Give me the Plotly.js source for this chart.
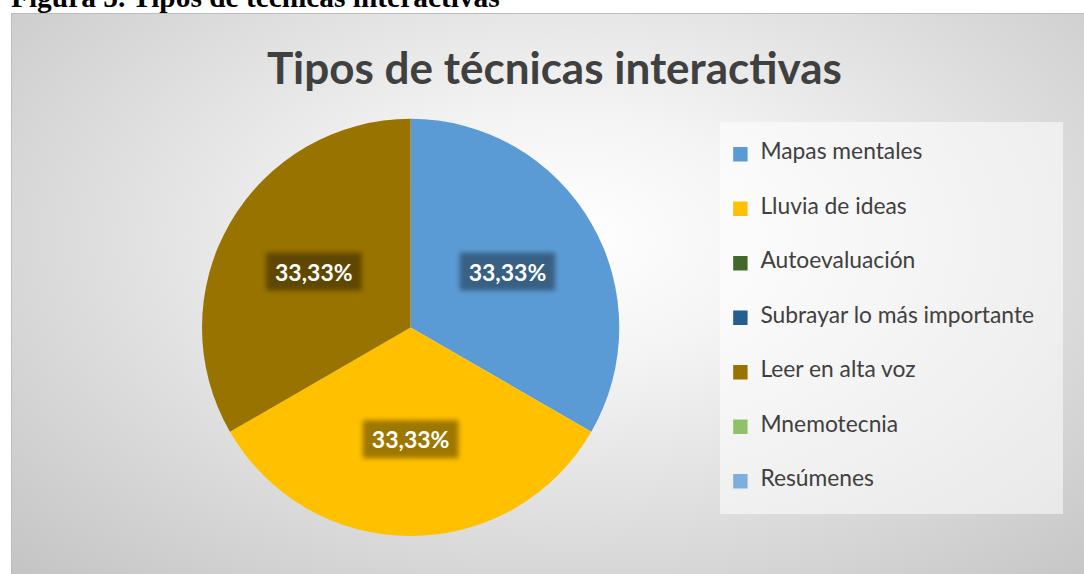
<!DOCTYPE html>
<html>
<head>
<meta charset="utf-8">
<script src="https://cdn.plot.ly/plotly-3.0.1.min.js"></script>
<style>
  html, body { margin:0; padding:0; width:1084px; height:574px; overflow:hidden; background:#ffffff; }
  #caption { position:absolute; left:11px; top:-17px; font-family:"Liberation Serif","Times New Roman",serif; font-weight:bold; font-size:29.4px; line-height:29px; color:#000; white-space:nowrap; }
  #chart { position:absolute; left:11px; top:13px; width:1073px; height:561px; box-sizing:border-box;
           border-top:1px solid #bdbdbd; border-left:1px solid #bdbdbd;
           background: radial-gradient(ellipse farthest-corner at 52% 40%, #ffffff 0%, #f4f4f4 26%, #c4c4c4 100%); }
</style>
</head>
<body>
<div id="caption">Figura 5. Tipos de técnicas interactivas</div>
<div id="chart"></div>
<script>
const chartTitle = "Tipos de técnicas interactivas";
const categories = ["Mapas mentales", "Lluvia de ideas", "Autoevaluación", "Subrayar lo más importante", "Leer en alta voz", "Mnemotecnia", "Resúmenes"];
const values = [1, 1, 0, 0, 1, 0, 0];
const colors = ["#5B9BD5", "#FFC000", "#43682B", "#255E91", "#997300", "#8FC16A", "#7CAFDD"];

const legendFontSize = 13.2;
const legendTextSize = 22.8;
const legendLabels = categories.map(c => "<br><span style='font-size:" + legendTextSize + "px'>" + c + "&nbsp;&nbsp;&nbsp;&nbsp;</span><br>");

const data = [{
  type: "pie",
  labels: legendLabels,
  values: values,
  marker: { colors: colors },
  sort: false,
  direction: "clockwise",
  rotation: 0,
  textposition: "inside",
  insidetextorientation: "horizontal",
  texttemplate: "%{percent:.2%}",
  insidetextfont: { family: "Lato, 'Noto Sans', sans-serif", size: 23, color: "#ffffff", weight: "bold" },
  hoverinfo: "none",
  domain: { x: [0.1771, 0.5666], y: [0.0677, 0.8128] }
}];

const layout = {
  width: 1072, height: 560,
  margin: { l: 0, r: 0, t: 0, b: 0 },
  paper_bgcolor: "rgba(0,0,0,0)",
  plot_bgcolor: "rgba(0,0,0,0)",
  separators: ",.",
  title: {
    text: "<b>" + chartTitle + "</b>",
    font: { family: "Lato, 'Noto Sans', sans-serif", size: 44, color: "#404040" },
    x: 0.506, xanchor: "center", xref: "paper",
    y: 0.9027, yanchor: "middle", yref: "container"
  },
  showlegend: true,
  legend: {
    x: 0.6608, xanchor: "left", xref: "paper",
    y: 0.8070, yanchor: "top", yref: "paper",
    bgcolor: "rgba(255,255,255,0.55)",
    borderwidth: 0,
    font: { family: "Lato, 'Noto Sans', sans-serif", size: legendFontSize, color: "#404040" },
    traceorder: "normal"
  }
};

Plotly.newPlot("chart", data, layout, { displayModeBar: false, staticPlot: true }).then(function () {
  const svg = document.querySelector("#chart svg.main-svg");
  const ns = "http://www.w3.org/2000/svg";
  let defs = svg.querySelector("defs");
  const filter = document.createElementNS(ns, "filter");
  filter.setAttribute("id", "lblblur");
  filter.setAttribute("x", "-20%"); filter.setAttribute("y", "-30%");
  filter.setAttribute("width", "140%"); filter.setAttribute("height", "160%");
  const blur = document.createElementNS(ns, "feGaussianBlur");
  blur.setAttribute("stdDeviation", "2.5");
  filter.appendChild(blur);
  defs.appendChild(filter);
  document.querySelectorAll("#chart g.slicetext").forEach(function (g) {
    const t = g.querySelector("text");
    if (!t) return;
    const bb = t.getBBox();
    const r = document.createElementNS(ns, "rect");
    r.setAttribute("x", bb.x - 9);
    r.setAttribute("y", bb.y - 5);
    r.setAttribute("width", bb.width + 18);
    r.setAttribute("height", bb.height + 10);
    r.setAttribute("fill", "rgba(0,0,0,0.38)");
    r.setAttribute("filter", "url(#lblblur)");
    const tr = t.getAttribute("transform");
    if (tr) r.setAttribute("transform", tr);
    g.insertBefore(r, t);
  });
  // enlarge legend swatches to match the reference square size
  document.querySelectorAll("#chart g.legendpoints path").forEach(function (p) {
    const tr = p.getAttribute("transform") || "";
    p.setAttribute("transform", tr + " scale(1.2)");
  });
});
</script>
</body>
</html>
